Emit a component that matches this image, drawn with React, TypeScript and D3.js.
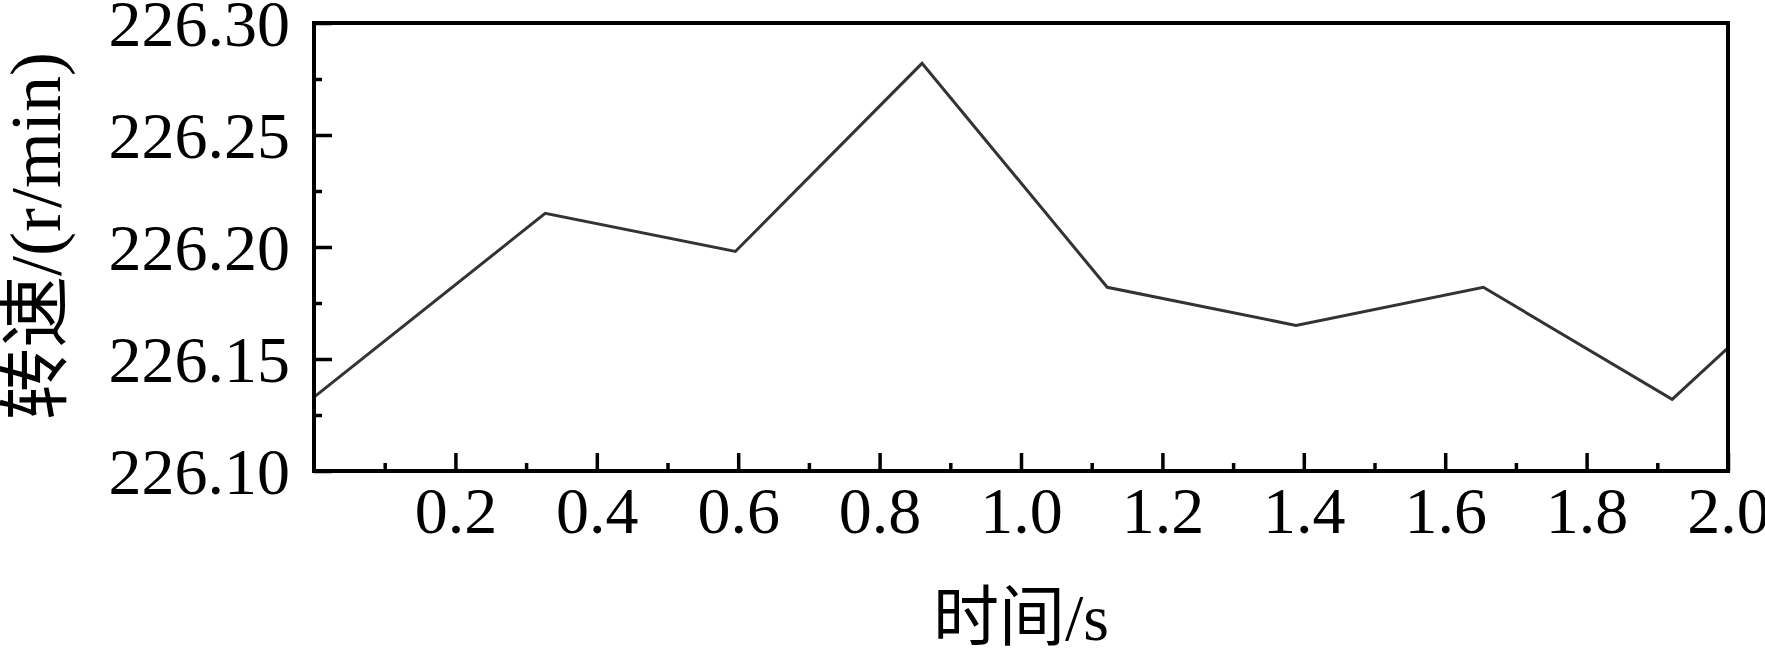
import { useRef, useEffect } from "react";
import * as d3 from "d3";

// 转速随时间变化
const times = [0, 0.327, 0.596, 0.86, 1.122, 1.389, 1.654, 1.921, 2.0];
const speeds = [226.133, 226.215, 226.198, 226.282, 226.182, 226.165, 226.182, 226.132, 226.155];

const xMajor = [0.2, 0.4, 0.6, 0.8, 1.0, 1.2, 1.4, 1.6, 1.8, 2.0];
const xMinor = [0.1, 0.3, 0.5, 0.7, 0.9, 1.1, 1.3, 1.5, 1.7, 1.9];
const yMajor = [226.1, 226.15, 226.2, 226.25, 226.3];
const yMinor = [226.125, 226.175, 226.225, 226.275];

const X_TITLE = "时间/s";
const Y_TITLE = "转速/(r/min)";

const WIDTH = 1765;
const HEIGHT = 649;
const MARGIN = { top: 23, right: 37, bottom: 178, left: 314 };
const FONT = "'Liberation Serif', 'Times New Roman', 'Noto Sans CJK SC', serif";
const FONT_SIZE = 66;

export default function App() {
  const svgRef = useRef<SVGSVGElement>(null);

  useEffect(() => {
    if (!svgRef.current) return;
    const svg = d3.select(svgRef.current);
    svg.selectAll("*").remove();

    const x0 = MARGIN.left;
    const x1 = WIDTH - MARGIN.right;
    const y0 = MARGIN.top;
    const y1 = HEIGHT - MARGIN.bottom;

    const x = d3.scaleLinear().domain([0, 2.0]).range([x0, x1]);
    const y = d3.scaleLinear().domain([226.1, 226.3]).range([y1, y0]);

    // minor ticks (inward)
    const xMinorAxis = d3.axisBottom(x).tickValues(xMinor).tickSizeInner(-8).tickSizeOuter(0).tickFormat(() => "");
    const yMinorAxis = d3.axisLeft(y).tickValues(yMinor).tickSizeInner(-8).tickSizeOuter(0).tickFormat(() => "");

    svg.append("g").attr("transform", `translate(0,${y1})`).call(xMinorAxis);
    svg.append("g").attr("transform", `translate(${x0},0)`).call(yMinorAxis);

    // major ticks + labels
    const xAxis = d3
      .axisBottom(x)
      .tickValues(xMajor)
      .tickSizeInner(-18)
      .tickSizeOuter(0)
      .tickFormat(d3.format(".1f"));
    const yAxis = d3
      .axisLeft(y)
      .tickValues(yMajor)
      .tickSizeInner(-18)
      .tickSizeOuter(0)
      .tickFormat(d3.format(".2f"));

    const gx = svg.append("g").attr("transform", `translate(0,${y1})`).call(xAxis);
    const gy = svg.append("g").attr("transform", `translate(${x0},0)`).call(yAxis);

    gx.selectAll("text").attr("y", 62).attr("dy", 0);
    gy.selectAll("text").attr("x", -24).attr("dy", 22);

    svg.selectAll(".domain").remove();
    svg.selectAll(".tick line").attr("stroke", "#000").attr("stroke-width", 3.5);
    svg
      .selectAll(".tick text")
      .attr("fill", "#000")
      .attr("font-family", FONT)
      .attr("font-size", FONT_SIZE);

    // data line
    const line = d3
      .line<number>()
      .x((_, i) => x(times[i]))
      .y((d) => y(d));

    svg
      .append("path")
      .datum(speeds)
      .attr("d", line)
      .attr("fill", "none")
      .attr("stroke", "#333")
      .attr("stroke-width", 3)
      .attr("stroke-linejoin", "miter");

    // frame
    svg
      .append("rect")
      .attr("x", x0)
      .attr("y", y0)
      .attr("width", x1 - x0)
      .attr("height", y1 - y0)
      .attr("fill", "none")
      .attr("stroke", "#000")
      .attr("stroke-width", 4);

    // axis titles
    svg
      .append("text")
      .attr("x", (x0 + x1) / 2)
      .attr("y", 640)
      .attr("text-anchor", "middle")
      .attr("font-family", FONT)
      .attr("font-size", FONT_SIZE)
      .attr("fill", "#000")
      .text(X_TITLE);

    svg
      .append("text")
      .attr("transform", `translate(60,236) rotate(-90)`)
      .attr("text-anchor", "middle")
      .attr("font-family", FONT)
      .attr("font-size", 72)
      .attr("fill", "#000")
      .text(Y_TITLE);
  }, []);

  return (
    <svg
      ref={svgRef}
      width={WIDTH}
      height={HEIGHT}
      style={{ position: "fixed", left: 0, top: 0, background: "#fff" }}
    />
  );
}
